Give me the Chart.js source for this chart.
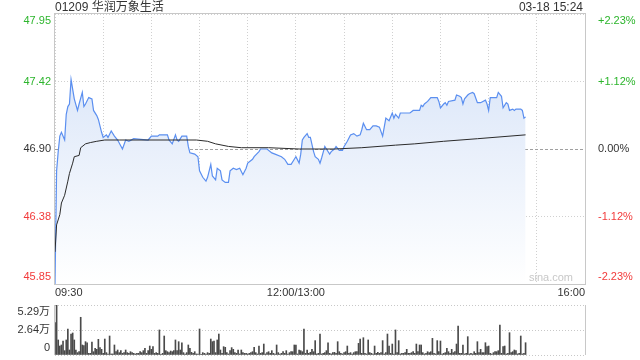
<!DOCTYPE html>
<html><head><meta charset="utf-8">
<script src="https://cdn.jsdelivr.net/npm/chart.js@4/dist/chart.umd.min.js"></script>
<style>
html,body{margin:0;padding:0;background:#fff;width:640px;height:360px;overflow:hidden}
#c1{position:absolute;left:0;top:0}
#c2{position:absolute;left:0;top:300px}
</style></head><body>
<canvas id="c1" width="640" height="300"></canvas>
<canvas id="c2" width="640" height="60"></canvas>
<script>
const stockTitle = '01209 华润万象生活';
const stampText = '03-18 15:24';
const watermark = 'sina.com';
const priceTicks = [45.85, 46.375, 46.90, 47.425, 47.95];
const priceTickLabels = ['45.85', '46.38', '46.90', '47.42', '47.95'];
const pctTickLabels = ['-2.23%', '-1.12%', '0.00%', '+1.12%', '+2.23%'];
const tickColors = ['#f23a3a', '#f23a3a', '#333333', '#2db52d', '#2db52d'];
const timeTicks = [0, 30, 60, 90, 120, 150, 180, 210, 240, 270, 300, 330];
const timeLabels = {0: '09:30', 150: '12:00/13:00', 330: '16:00'};

const priceMinutes = [0,1,2,3,4,6,7,8,9,10,12,14,15,17,18,19,21,23,24,26,27,29,30,32,33,35,37,39,42,44,46,49,58,60,64,65,70,71,73,75,76,77,79,82,83,84,87,89,90,92,94,95,97,98,100,101,103,104,106,108,109,111,113,115,117,119,120,123,124,127,128,132,135,137,141,143,145,147,149,150,152,153,154,155,157,158,159,161,162,164,165,166,168,169,171,172,174,175,177,179,180,182,184,186,188,190,191,192,194,196,198,200,202,204,205,206,208,210,211,212,214,215,221,223,227,228,229,230,232,234,238,239,240,242,243,244,245,249,250,252,253,254,255,257,258,260,261,263,265,268,269,270,271,275,276,278,279,281,282,283,285,286,287,290,291,292,293];
const priceValues = [45.85,46.73,46.88,47.00,47.03,46.97,47.17,47.23,47.25,47.44,47.29,47.20,47.25,47.34,47.23,47.25,47.30,47.29,47.20,47.16,47.13,47.03,46.99,47.01,46.99,47.04,47.00,46.97,46.90,46.97,46.96,46.98,46.97,47.00,47.00,47.01,47.01,46.97,46.94,47.01,46.97,46.96,47.00,47.00,46.92,46.87,46.86,46.84,46.73,46.68,46.65,46.68,46.78,46.69,46.66,46.75,46.73,46.66,46.64,46.64,46.73,46.75,46.74,46.75,46.70,46.75,46.79,46.82,46.84,46.88,46.90,46.90,46.87,46.86,46.84,46.82,46.78,46.78,46.82,46.84,46.79,46.86,46.97,46.99,47.02,46.99,46.99,46.88,46.84,46.82,46.79,46.83,46.92,46.90,46.86,46.88,46.90,46.92,46.89,46.89,46.92,46.96,47.01,47.02,47.00,47.01,47.05,47.10,47.05,47.05,47.08,47.08,47.07,47.00,47.07,47.14,47.12,47.18,47.14,47.17,47.14,47.18,47.18,47.20,47.20,47.24,47.23,47.25,47.27,47.30,47.30,47.27,47.22,47.25,47.26,47.24,47.27,47.28,47.32,47.31,47.30,47.25,47.29,47.32,47.33,47.34,47.33,47.26,47.26,47.28,47.25,47.20,47.30,47.30,47.34,47.31,47.22,47.26,47.25,47.20,47.21,47.20,47.21,47.21,47.20,47.14,47.15];

const avgMinutes = [0,1,3,4,6,8,9,11,12,15,16,19,22,26,31,40,88,95,100,108,116,133,152,174,191,212,224,242,263,293];
const avgValues = [46.10,46.31,46.39,46.48,46.54,46.65,46.71,46.79,46.84,46.85,46.91,46.94,46.95,46.96,46.97,46.97,46.97,46.96,46.94,46.92,46.91,46.91,46.90,46.90,46.91,46.93,46.94,46.96,46.98,47.01];

// per-minute volume, 09:30-11:59 and 13:00-15:23
const volAM = [34200,52900,15900,9500,10600,14800,4600,15900,27500,5300,22200,23300,15900,5300,2500,3500,39900,10600,9900,14100,13000,1800,1800,13800,3500,7100,6000,16600,7800,6000,1800,16900,2500,1100,20100,1100,1100,10600,3500,5300,2500,4600,1800,2500,5300,2500,1800,3500,2500,1800,1100,1800,1800,3500,2500,4600,7100,1800,4600,9500,6000,8800,1800,2500,1800,26500,700,1800,20100,4600,3500,2500,4200,3500,4600,15900,4600,14100,5300,13000,2500,1100,2500,10600,7100,2800,1800,3500,1100,1100,27500,700,2500,1800,1100,2500,1800,16900,14100,14800,2500,15900,22200,5300,1800,8800,8100,2500,1100,4600,7800,6000,2500,1800,5300,1100,5300,2500,1800,1800,1100,1800,2500,3500,8100,2500,1100,9500,1800,2500,11600,1100,2500,3500,1800,4600,1800,1100,10600,2500,1100,1800,3500,1800,4600,1100,2500,3500,3500,10600];
const volPM = [10600,1100,5300,4600,3500,27500,1800,5300,1800,2800,6000,3500,15200,1100,1800,22200,1100,1800,2500,4600,13000,1800,1100,2500,2800,1800,14100,3500,1800,1100,2500,3500,9500,1800,2500,1100,2500,3500,3500,12300,16900,1800,18300,1800,1100,15900,2500,1800,1100,9500,1800,2800,1800,2500,15200,1100,2500,22200,9500,1800,11600,1100,26500,2500,15200,1100,1800,1800,2500,6000,1800,1800,2500,3500,1800,11600,3500,10600,10600,2500,1100,1800,3500,2500,3500,17600,1800,1100,15200,3500,14800,1100,1800,2500,7100,3500,1800,6000,2500,3500,11600,30700,1800,1800,10600,1100,1800,19400,1100,1800,1100,3500,1800,14100,2500,6000,2500,2500,13000,8800,9500,1800,1100,2500,3500,3500,4600,31700,1800,8800,9500,1100,1800,23600,2500,3500,5300,4600,1100,1800,20100,1100,1800,13000];
const volTicks = [0, 26450, 52900];
const volTickLabels = ['0', '2.64万', '5.29万'];

const FONT = '"Liberation Sans", Arial, "Noto Sans CJK SC", sans-serif';
Chart.defaults.font.family = FONT;
Chart.defaults.font.size = 11;

const noPad = s => { s.paddingTop = 0; s.paddingBottom = 0; s.paddingLeft = 0; s.paddingRight = 0; };

const priceData = priceMinutes.map((m, i) => ({x: m, y: priceValues[i]}));
const avgData = avgMinutes.map((m, i) => ({x: m, y: avgValues[i]}));

const framePlugin = {
  id: 'frame',
  afterDraw(chart) {
    const {ctx, chartArea: a} = chart;
    ctx.save();
    ctx.strokeStyle = '#c8c8c8';
    ctx.lineWidth = 1;
    ctx.strokeRect(Math.round(a.left) - 0.5, Math.round(a.top) - 0.5, Math.round(a.right - a.left) + 1, Math.round(a.bottom - a.top) + 1);
    ctx.font = '12px ' + FONT;
    ctx.fillStyle = '#333';
    ctx.textBaseline = 'middle';
    ctx.textAlign = 'left';
    ctx.fillText(stockTitle, a.left, 8);
    ctx.textAlign = 'right';
    ctx.fillText(stampText, a.right - 2, 8);
    ctx.font = '11px ' + FONT;
    ctx.fillStyle = '#c8c8c8';
    ctx.fillText(watermark, a.right - 12, a.bottom - 6);
    ctx.restore();
  }
};

new Chart(document.getElementById('c1'), {
  type: 'line',
  data: {datasets: [
    {data: avgData, borderColor: '#2b2b2b', borderWidth: 1, pointRadius: 0, fill: false, tension: 0, order: 0},
    {data: priceData, borderColor: '#5b8ff0', borderWidth: 1.2, pointRadius: 0, tension: 0, fill: 'start', order: 1,
     backgroundColor: (c) => {
       const a = c.chart.chartArea;
       if (!a) return 'rgba(0,0,0,0)';
       const g = c.chart.ctx.createLinearGradient(0, a.top, 0, a.bottom);
       g.addColorStop(0, '#d2e0f7');
       g.addColorStop(1, '#ffffff');
       return g;
     }}
  ]},
  options: {
    responsive: false, animation: false, events: [],
    layout: {padding: {top: 14}},
    plugins: {legend: {display: false}, tooltip: {enabled: false}},
    scales: {
      x: {type: 'linear', min: 0, max: 330,
        afterBuildTicks: s => { s.ticks = timeTicks.map(v => ({value: v})); },
        afterFit: s => { s.height = 16; noPad(s); },
        ticks: {autoSkip: false, maxRotation: 0, align: 'inner', padding: 2, color: '#333', callback: v => timeLabels[v] || ''},
        grid: {color: '#d0d0d0', drawTicks: false},
        border: {display: false, dash: [1, 2]}},
      y: {min: 45.85, max: 47.95,
        afterBuildTicks: s => { s.ticks = priceTicks.map(v => ({value: v})); },
        afterFit: s => { s.width = 55; noPad(s); },
        ticks: {autoSkip: false, padding: 4, color: c => tickColors[c.index],
          callback: (v, i) => i === 0 ? [priceTickLabels[i], ''] : (i === 4 ? ['', priceTickLabels[i]] : priceTickLabels[i])},
        grid: {drawTicks: false, color: c => c.index === 2 ? '#a0a0a0' : '#d0d0d0'},
        border: {display: false, dash: c => c.index === 2 ? [3, 2] : [1, 2]}},
      y2: {position: 'right', min: 45.85, max: 47.95,
        afterBuildTicks: s => { s.ticks = priceTicks.map(v => ({value: v})); },
        afterFit: s => { s.width = 55; noPad(s); },
        ticks: {autoSkip: false, padding: 5, color: c => tickColors[c.index],
          callback: (v, i) => i === 0 ? [pctTickLabels[i], ''] : (i === 4 ? ['', pctTickLabels[i]] : pctTickLabels[i])},
        grid: {display: false}, border: {display: false}}
    }
  },
  plugins: [framePlugin]
});

const volData = volAM.map((v, i) => ({x: i, y: v})).concat(volPM.map((v, i) => ({x: 150 + i, y: v})));

const volFrame = {
  id: 'volFrame',
  afterDraw(chart) {
    const {ctx, chartArea: a} = chart;
    ctx.save();
    ctx.strokeStyle = '#c8c8c8';
    ctx.lineWidth = 1;
    ctx.beginPath();
    ctx.moveTo(Math.round(a.left) - 0.5, a.top); ctx.lineTo(Math.round(a.left) - 0.5, a.bottom);
    ctx.moveTo(Math.round(a.right) + 0.5, a.top); ctx.lineTo(Math.round(a.right) + 0.5, a.bottom);
    ctx.stroke();
    ctx.restore();
  }
};

new Chart(document.getElementById('c2'), {
  type: 'bar',
  data: {datasets: [{data: volData, backgroundColor: '#4a4a4a', barThickness: 1, borderWidth: 0}]},
  options: {
    responsive: false, animation: false, events: [],
    layout: {padding: {top: 5, bottom: 5, right: 55}},
    plugins: {legend: {display: false}, tooltip: {enabled: false}},
    scales: {
      x: {type: 'linear', min: 0, max: 330, offset: false, display: false, grid: {offset: false}},
      y: {min: 0, max: 52900,
        afterBuildTicks: s => { s.ticks = volTicks.map(v => ({value: v})); },
        afterFit: s => { s.width = 55; noPad(s); },
        ticks: {autoSkip: false, padding: 5, color: '#333',
          callback: (v, i) => i === 0 ? [volTickLabels[i], ''] : (i === 2 ? ['', volTickLabels[i]] : volTickLabels[i])},
        grid: {drawTicks: false, color: '#c8c8c8'},
        border: {display: false, dash: [1, 2]}}
    }
  },
  plugins: [volFrame]
});
</script>
</body></html>
